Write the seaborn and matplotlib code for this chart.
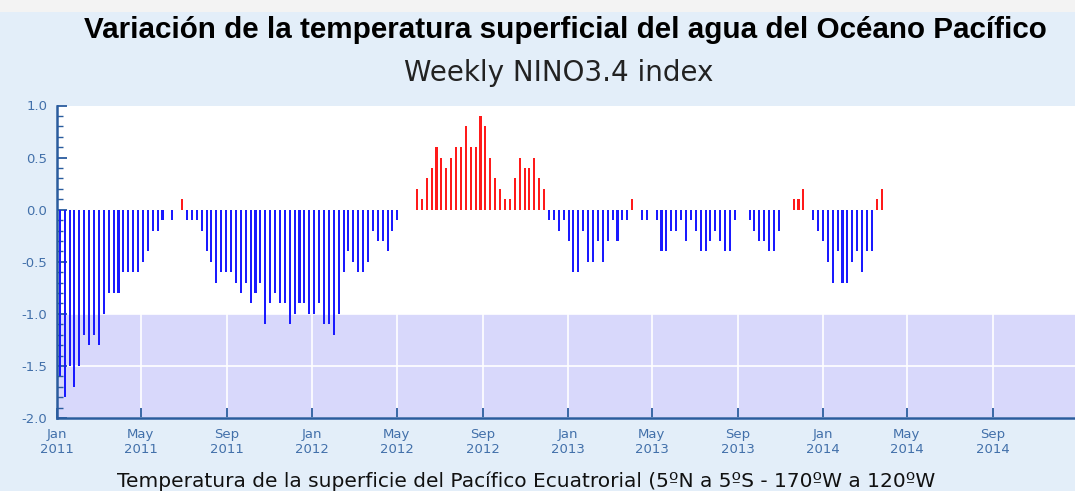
import numpy as np
import pandas as pd
import matplotlib
matplotlib.use("Agg")
import matplotlib.pyplot as plt
import matplotlib.dates as mdates
from matplotlib.patches import Rectangle
from matplotlib.ticker import MultipleLocator, FormatStrFormatter
import seaborn as sns

# weekly NINO3.4 anomaly (deg C), one value per week starting 05 Jan 2011
first_week = "2011-01-05"
nino34 = [
    -1.6, -1.8, -1.5, -1.7, -1.5, -1.2, -1.3, -1.2, -1.3, -1.0,
    -0.8, -0.8, -0.8, -0.6, -0.6, -0.6, -0.6, -0.5, -0.4, -0.2,
    -0.2, -0.1, 0.0, -0.1, 0.0, 0.1, -0.1, -0.1, -0.1, -0.2,
    -0.4, -0.5, -0.7, -0.6, -0.6, -0.6, -0.7, -0.8, -0.7, -0.9,
    -0.8, -0.7, -1.1, -0.9, -0.8, -0.9, -0.9, -1.1, -1.0, -0.9,
    -0.9, -1.0, -1.0, -0.9, -1.1, -1.1, -1.2, -1.0, -0.6, -0.4,
    -0.5, -0.6, -0.6, -0.5, -0.2, -0.3, -0.3, -0.4, -0.2, -0.1,
    0.0, 0.0, 0.0, 0.2, 0.1, 0.3, 0.4, 0.6, 0.5, 0.4,
    0.5, 0.6, 0.6, 0.8, 0.6, 0.6, 0.9, 0.8, 0.5, 0.3,
    0.2, 0.1, 0.1, 0.3, 0.5, 0.4, 0.4, 0.5, 0.3, 0.2,
    -0.1, -0.1, -0.2, -0.1, -0.3, -0.6, -0.6, -0.2, -0.5, -0.5,
    -0.3, -0.5, -0.3, -0.1, -0.3, -0.1, -0.1, 0.1, 0.0, -0.1,
    -0.1, 0.0, -0.1, -0.4, -0.4, -0.2, -0.2, -0.1, -0.3, -0.1,
    -0.2, -0.4, -0.4, -0.3, -0.2, -0.3, -0.4, -0.4, -0.1, 0.0,
    0.0, -0.1, -0.2, -0.3, -0.3, -0.4, -0.4, -0.2, 0.0, 0.0,
    0.1, 0.1, 0.2, 0.0, -0.1, -0.2, -0.3, -0.5, -0.7, -0.4,
    -0.7, -0.7, -0.5, -0.4, -0.6, -0.4, -0.4, 0.1, 0.2,
]

tick_dates = ["2011-01-01", "2011-05-01", "2011-09-01",
              "2012-01-01", "2012-05-01", "2012-09-01",
              "2013-01-01", "2013-05-01", "2013-09-01",
              "2014-01-01", "2014-05-01", "2014-09-01"]
tick_labels = ["Jan\n2011", "May\n2011", "Sep\n2011",
               "Jan\n2012", "May\n2012", "Sep\n2012",
               "Jan\n2013", "May\n2013", "Sep\n2013",
               "Jan\n2014", "May\n2014", "Sep\n2014"]

weeks = pd.date_range(first_week, periods=len(nino34), freq="7D")
df = pd.DataFrame({
    "x": mdates.date2num(weeks),
    "value": nino34,
})
df["phase"] = np.where(df["value"] > 0, "warm", "cold")

bg = "#e3eef9"
axis_blue = "#2a5c9e"
label_blue = "#4270aa"

plt.rcParams["axes.unicode_minus"] = False
plt.rcParams["font.family"] = ["DejaVu Sans"]

fig = plt.figure(figsize=(10.75, 4.91), dpi=100, facecolor=bg)
# faint strip at the very top
fig.add_artist(Rectangle((0, 1 - 12 / 491), 1, 12 / 491, transform=fig.transFigure,
                         color="#f3f3f3", lw=0))

ax = fig.add_axes([57 / 1075, 73 / 491, 1 - 57 / 1075, 312.5 / 491])
ax.set_facecolor("white")
ax.axhspan(-2, -1, color="#d8d8fb", lw=0, zorder=0)

sns.barplot(data=df, x="x", y="value", hue="phase",
            palette={"warm": "#ff1a1a", "cold": "#1a1aff"}, saturation=1,
            native_scale=True, width=0.42, errorbar=None,
            linewidth=0, legend=False, ax=ax)

left = mdates.date2num(pd.Timestamp("2011-01-04"))
right = mdates.date2num(pd.Timestamp("2011-01-01")) + (1075 - 54.6) / 0.7005
ax.set_xlim(left, right)
ax.set_ylim(-2, 1)

ax.set_xticks(mdates.date2num(pd.to_datetime(tick_dates)))
ax.set_xticklabels(tick_labels)
ax.yaxis.set_major_locator(MultipleLocator(0.5))
ax.yaxis.set_minor_locator(MultipleLocator(0.1))
ax.yaxis.set_major_formatter(FormatStrFormatter("%.1f"))

ax.set_axisbelow(True)
ax.grid(True, which="major", color="white", lw=1.2)

for side in ["top", "right"]:
    ax.spines[side].set_visible(False)
for side in ["left", "bottom"]:
    ax.spines[side].set_color(axis_blue)
    ax.spines[side].set_linewidth(1.8)

ax.tick_params(axis="both", which="major", direction="in", color=axis_blue,
               labelcolor=label_blue, labelsize=9.5, length=7, width=1.3, pad=7)
ax.tick_params(axis="y", which="minor", direction="in", color=axis_blue,
               length=4, width=1.0)
ax.set_xlabel("")
ax.set_ylabel("")

fig.text(0.526, 1 - 30 / 491,
         "Variación de la temperatura superficial del agua del Océano Pacífico",
         ha="center", va="center", fontsize=21.3, fontweight="bold",
         family=["Liberation Sans"], color="black")
fig.text(0.52, 1 - 73 / 491, "Weekly NINO3.4 index",
         ha="center", va="center", fontsize=20, color="#222222")
fig.text(0.489, 1 - 481 / 491,
         "Temperatura de la superficie del Pacífico Ecuatrorial (5ºN a 5ºS - 170ºW a 120ºW",
         ha="center", va="center", fontsize=14.5, color="#111111")

fig.savefig("out.png", dpi=100, facecolor=bg)
